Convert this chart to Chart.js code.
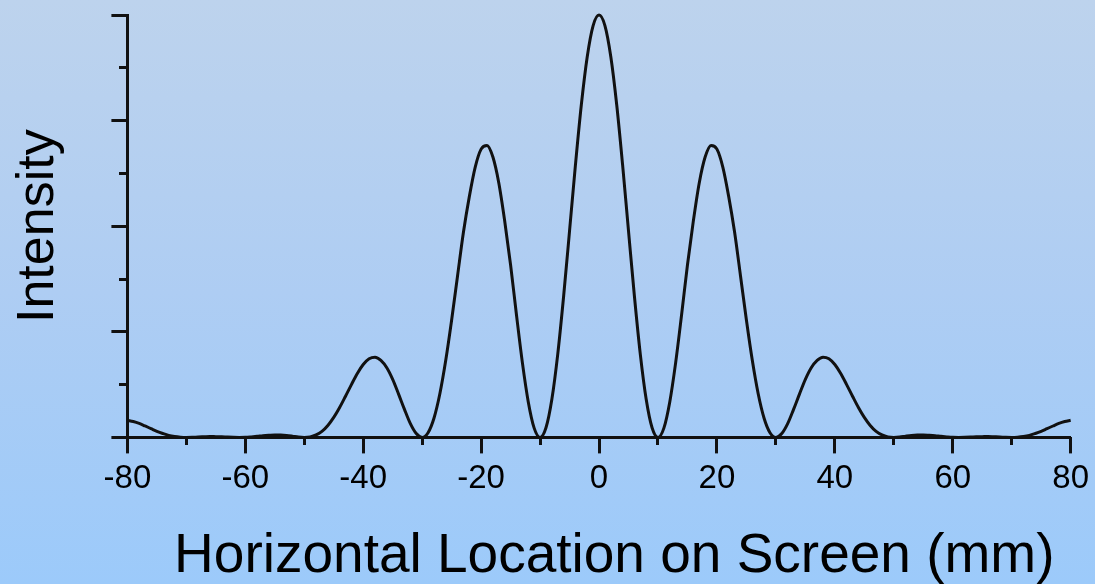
<!DOCTYPE html>
<html>
<head>
<meta charset="utf-8">
<script src="https://cdn.jsdelivr.net/npm/chart.js@4/dist/chart.umd.min.js"></script>
<style>
  html, body { margin: 0; padding: 0; }
  body { width: 1095px; height: 584px; overflow: hidden;
         background: linear-gradient(to bottom, #bdd3ed 0%, #aecdf3 50%, #9ccafa 100%); }
  #wrap { position: relative; width: 1095px; height: 584px; }
</style>
</head>
<body>
<div id="wrap"><canvas id="c"></canvas></div>
<script>
// Horizontal location on screen (mm)
const positions = [
  -80,-79,-78,-77,-76,-75,-74,-73,-72,-71,
  -70,-69,-68,-67,-66,-65,-64,-63,-62,-61,
  -60,-59,-58,-57,-56,-55,-54,-53,-52,-51,
  -50,-49,-48,-47,-46,-45,-44,-43,-42,-41,
  -40,-39,-38,-37,-36,-35,-34,-33,-32,-31,
  -30,-29,-28,-27,-26,-25,-24,-23,-22,-21,
  -20,-19,-18,-17,-16,-15,-14,-13,-12,-11,
  -10,-9,-8,-7,-6,-5,-4,-3,-2,-1,
  0,
  1,2,3,4,5,6,7,8,9,10,
  11,12,13,14,15,16,17,18,19,20,
  21,22,23,24,25,26,27,28,29,30,
  31,32,33,34,35,36,37,38,39,40,
  41,42,43,44,45,46,47,48,49,50,
  51,52,53,54,55,56,57,58,59,60,
  61,62,63,64,65,66,67,68,69,70,
  71,72,73,74,75,76,77,78,79,80
];
// Intensity (arbitrary units, 0..4 axis)
const intensity = [
  0.162,0.150,0.132,0.108,0.083,0.058,0.037,0.019,0.008,0.002,
  0,0.001,0.004,0.006,0.008,0.007,0.006,0.003,0.001,0,
  0.001,0.005,0.010,0.016,0.020,0.023,0.022,0.018,0.011,0.003,
  0,0.005,0.023,0.057,0.113,0.189,0.283,0.39,0.50,0.605,
  0.69,0.745,0.76,0.73,0.66,0.55,0.41,0.265,0.13,0.036,
  0,0.044,0.181,0.413,0.730,1.112,1.529,1.942,2.28,2.56,
  2.73,2.765,2.655,2.41,2.05,1.633,1.159,0.708,0.336,0.088,
  0,0.091,0.361,0.789,1.339,1.956,2.58,3.15,3.605,3.90,
  4.00,
  3.90,3.605,3.15,2.58,1.956,1.339,0.789,0.361,0.091,0,
  0.088,0.336,0.708,1.159,1.633,2.05,2.41,2.655,2.765,2.73,
  2.56,2.28,1.942,1.529,1.112,0.730,0.413,0.181,0.044,0,
  0.036,0.13,0.265,0.41,0.55,0.66,0.73,0.76,0.745,0.69,
  0.605,0.50,0.39,0.283,0.189,0.113,0.057,0.023,0.005,0,
  0.003,0.011,0.018,0.022,0.023,0.020,0.016,0.010,0.005,0.001,
  0,0.001,0.003,0.006,0.007,0.008,0.006,0.004,0.001,0,
  0.002,0.008,0.019,0.037,0.058,0.083,0.108,0.132,0.150,0.162
];
const xTitle = 'Horizontal Location on Screen (mm)';
const yTitle = 'Intensity';

const FONT = '"Liberation Sans", Arial, Helvetica, sans-serif';
const INK = '#111';
const points = positions.map((x, i) => ({ x: x, y: intensity[i] }));

new Chart(document.getElementById('c'), {
  type: 'line',
  data: {
    datasets: [{
      data: points,
      borderColor: INK,
      borderWidth: 3,
      pointRadius: 0,
      cubicInterpolationMode: 'monotone',
      fill: false,
      clip: 4,
      xAxisID: 'x',
      yAxisID: 'y'
    }]
  },
  options: {
    responsive: true,
    maintainAspectRatio: false,
    animation: false,
    events: [],
    layout: { padding: { top: 15, right: 24, bottom: 0, left: 7 } },
    plugins: { legend: { display: false }, tooltip: { enabled: false } },
    scales: {
      x: {
        type: 'linear', position: 'bottom', min: -80, max: 80,
        ticks: { stepSize: 20, color: '#000', padding: 6,
                 font: { family: FONT, size: 33 }, maxRotation: 0 },
        grid: { drawOnChartArea: false, tickLength: 16, tickWidth: 3, tickColor: INK },
        border: { display: true, color: INK, width: 3 },
        title: { display: true, text: '  ' + xTitle, color: '#000',
                 font: { family: FONT, size: 55, lineHeight: 1.0 }, padding: { top: 24, bottom: 0 } }
      },
      xMinor: {
        type: 'linear', position: { y: 0 }, min: -80, max: 80,
        afterFit: (s) => { s.height = 0; },
        ticks: { stepSize: 10, display: false },
        grid: { drawOnChartArea: false, tickLength: 8, tickWidth: 3, tickColor: INK },
        border: { display: false }
      },
      y: {
        type: 'linear', position: 'left', min: 0, max: 4,
        ticks: { stepSize: 1, display: false },
        grid: { drawOnChartArea: false, tickLength: 16, tickWidth: 3, tickColor: INK },
        border: { display: true, color: INK, width: 3 },
        title: { display: true, text: yTitle, color: '#000',
                 font: { family: FONT, size: 52 }, padding: { top: 0, bottom: 42 } }
      },
      yMinor: {
        type: 'linear', position: { x: -80 }, min: 0, max: 4,
        afterFit: (s) => { s.width = 0; },
        ticks: { stepSize: 0.5, display: false },
        grid: { drawOnChartArea: false, tickLength: 8, tickWidth: 3, tickColor: INK },
        border: { display: false }
      }
    }
  }
});
</script>
</body>
</html>
